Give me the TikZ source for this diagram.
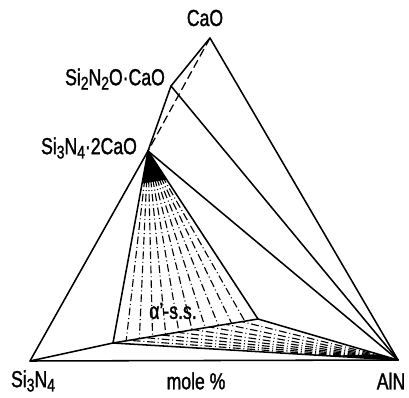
\documentclass[tikz,border=0pt]{standalone}
\usepackage{fontspec}
\setmainfont{Liberation Sans}[FakeStretch=0.76, FakeBold=1.3]
\usetikzlibrary{calc}
\newcommand{\sub}[1]{\raisebox{-0.35ex}{\fontsize{13}{13}\selectfont #1}}

\begin{document}
\begin{tikzpicture}[x=0.025cm,y=-0.025cm,
    edge/.style={line width=1.1pt, line join=round, line cap=round},
    tie/.style={line width=0.8pt, dash pattern=on 5.5pt off 2pt on 0.7pt off 2pt},
    lbl/.style={font=\fontsize{16.5}{18}\selectfont, inner sep=0pt}]
  \useasboundingbox (0,0) rectangle (409,398);

  % Compounds
  \coordinate (CaO) at (210,38);
  \coordinate (SNOC) at (171,86);
  \coordinate (SNC) at (148,151);
  \coordinate (SiN) at (30,361);
  \coordinate (AlN) at (398,360);
  % corners of the alpha' field
  \coordinate (A) at (113,343);
  \coordinate (B) at (258,319);

  % Labels
  \node[lbl] (lCaO) at (205,18) {CaO};
  \node[lbl] (lSNOC) at (115,79) {Si\sub{2}N\sub{2}O·CaO};
  \node[lbl] (lSNC) at (89,148) {Si\sub{3}N\sub{4}·2CaO};
  \node[lbl] (lSiN) at (33,381) {Si\sub{3}N\sub{4}};
  \node[lbl] (lmol) at (196,381) {mole \%};
  \node[lbl] (lAlN) at (391,381) {AlN};
  \node[lbl] (lss) at (173,311) {α'-s.s.};

  % alpha' tie lines
  \foreach \i in {1,...,10}
    \draw[tie] (SNC) -- ($(A)!{\i/11}!(B)$);
  \fill (SNC) -- ($(SNC)!0.17!(A)$) -- ($(SNC)!0.17!(B)$) -- cycle;

  % tie lines towards AlN
  \foreach \i in {1,...,8}
    \draw[tie] (AlN) -- ($(A)!{\i/9}!(B)$);
  \fill (AlN) -- ($(AlN)!0.25!(A)$) -- ($(AlN)!0.14!(B)$) -- cycle;

  % Joins
  \draw[edge] (SiN) -- (SNC) -- (SNOC) -- (CaO) -- (AlN) -- cycle;
  \draw[edge] (SNOC) -- (AlN);
  \draw[edge] (SNC) -- (AlN);
  \draw[edge] (SNC) -- (A);
  \draw[edge] (SNC) -- (B);
  \draw[edge] (SiN) -- (A) -- (B) -- (AlN);
  \draw[edge] (A) -- (AlN);
  \draw[line width=0.9pt, dash pattern=on 6pt off 3pt] (CaO) -- (SNC);
\end{tikzpicture}
\end{document}
